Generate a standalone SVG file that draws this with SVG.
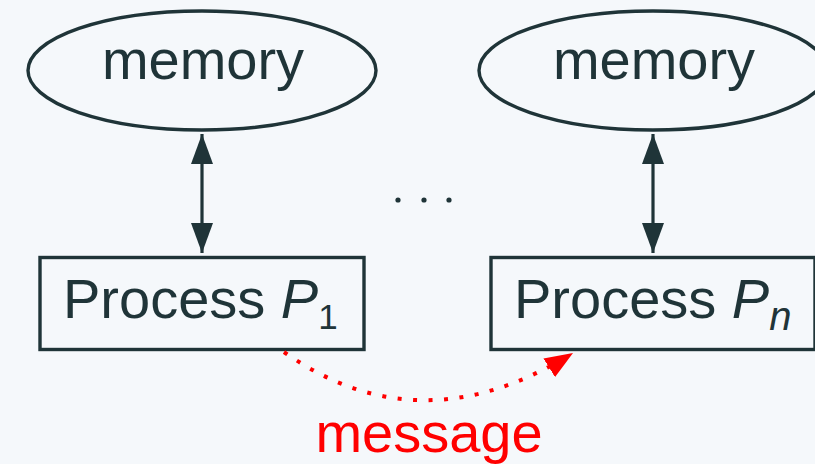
<svg xmlns="http://www.w3.org/2000/svg" width="815" height="464" viewBox="0 0 815 464">
<defs>
<style>
.bg{fill:#f5f8fb}
.shape{fill:none;stroke:#1f3438;stroke-width:3.4}
.lbl{font-family:"Liberation Sans",Arial,sans-serif;font-size:56px;fill:#1f3438}
.msg{font-family:"Liberation Sans",Arial,sans-serif;font-size:56px;fill:#ff0000}
.link{fill:none;stroke:#1f3438;stroke-width:3.2}
.dotted{fill:none;stroke:#ff0000;stroke-width:4;stroke-dasharray:4 11.5}
</style>
<marker id="ah" viewBox="0 0 30 22" refX="30" refY="11" markerWidth="30" markerHeight="22" markerUnits="userSpaceOnUse" orient="auto-start-reverse">
<path d="M0,0 L30,11 L0,22 Z" fill="#1f3438"/>
</marker>
<marker id="ahr" viewBox="0 0 28 22" refX="28" refY="11" markerWidth="28" markerHeight="22" markerUnits="userSpaceOnUse" orient="auto">
<path d="M0,0 L28,11 L0,22 Z" fill="#ff0000"/>
</marker>
</defs>
<rect class="bg" x="0" y="0" width="815" height="464"/>
<g id="mem1">
<ellipse class="shape" cx="202" cy="70.5" rx="174" ry="59.5"/>
<text class="lbl" x="203" y="79" text-anchor="middle">memory</text>
</g>
<g id="memn">
<ellipse class="shape" cx="653" cy="70.5" rx="174" ry="59.5"/>
<text class="lbl" x="654" y="79" text-anchor="middle">memory</text>
</g>
<g id="proc1">
<rect class="shape" x="40" y="257.5" width="324" height="92"/>
<text class="lbl" x="63" y="318">Process <tspan font-style="italic">P</tspan><tspan font-size="35" dy="11">1</tspan></text>
</g>
<g id="procn">
<rect class="shape" x="491" y="257.5" width="324" height="92"/>
<text class="lbl" x="514" y="318">Process <tspan font-style="italic">P</tspan><tspan font-style="italic" font-size="40" dy="12">n</tspan></text>
</g>
<g id="ellipsis" fill="#1f3438">
<circle cx="398" cy="200" r="2.6"/>
<circle cx="424" cy="200" r="2.6"/>
<circle cx="449" cy="200" r="2.6"/>
</g>
<g id="connectors">
<line class="link" x1="202" y1="134" x2="202" y2="253" marker-start="url(#ah)" marker-end="url(#ah)"/>
<line class="link" x1="653" y1="134" x2="653" y2="253" marker-start="url(#ah)" marker-end="url(#ah)"/>
<path class="dotted" d="M284,352 Q420,448 573,353" marker-end="url(#ahr)"/>
</g>
<text class="msg" x="429" y="452" text-anchor="middle">message</text>
</svg>
